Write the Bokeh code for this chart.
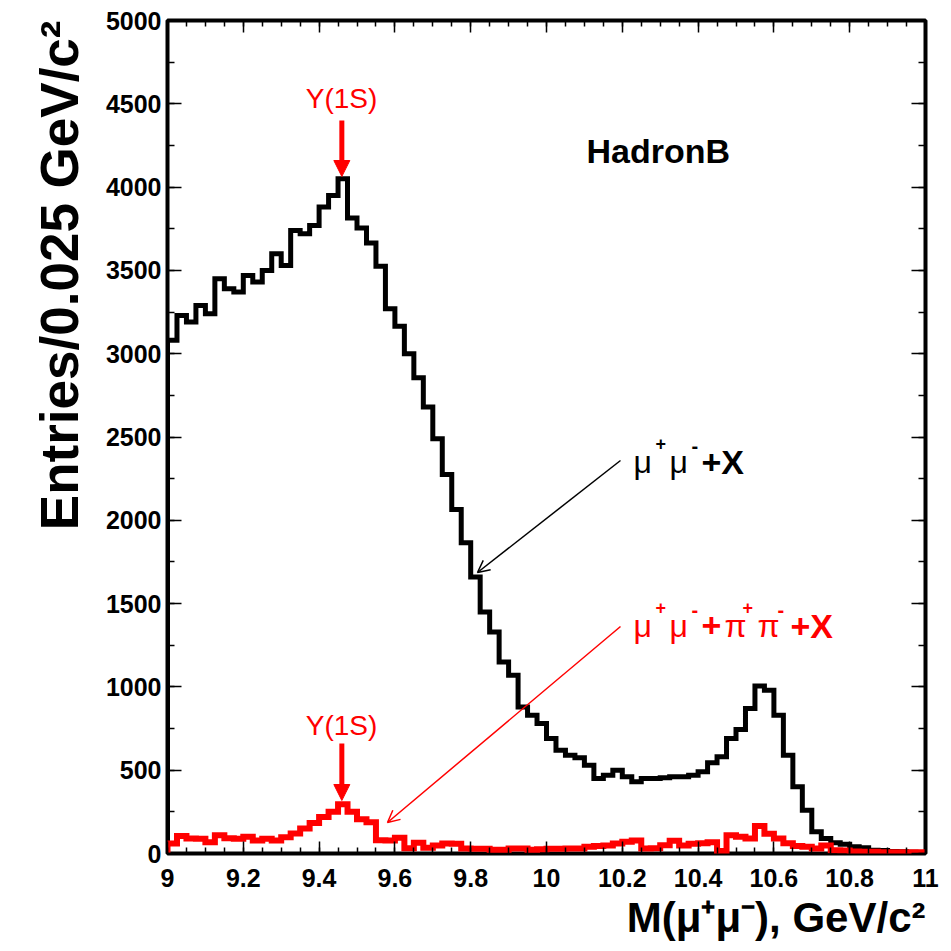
import numpy as np
from bokeh.plotting import figure
from bokeh.models import (Range1d, LinearAxis, FixedTicker, CustomJSTickFormatter,
                          Label, Arrow, NormalHead, OpenHead, Title)
from bokeh.embed import file_html
from bokeh.resources import INLINE

# Dimuon invariant mass, 80 bins of 0.025 GeV/c^2 between 9.0 and 11.0
mass_lo, mass_hi, bin_width = 9.0, 11.0, 0.025

# mu+ mu- + X (all hadronic events)
mumu_x = [3080, 3230, 3190, 3290, 3240, 3450, 3390, 3370, 3470, 3430,
          3500, 3600, 3530, 3740, 3720, 3770, 3880, 3950, 4050, 3815,
          3755, 3665, 3525, 3270, 3165, 3000, 2855, 2680, 2490, 2275,
          2065, 1865, 1660, 1450, 1330, 1150, 1070, 880, 830, 780,
          690, 620, 590, 575, 530, 450, 470, 500, 460, 430,
          450, 450, 455, 460, 460, 470, 490, 545, 580, 690,
          745, 870, 1005, 980, 830, 590, 400, 260, 130, 90,
          65, 55, 40, 35, 20, 18, 12, 10, 8, 6]

# mu+ mu- + pi+ pi- + X
mumu_pipi_x = [60, 105, 90, 88, 68, 110, 92, 88, 100, 78,
               88, 78, 98, 120, 150, 183, 219, 250, 295, 250,
               205, 188, 80, 78, 95, 32, 65, 35, 48, 60,
               58, 30, 28, 28, 22, 22, 30, 30, 22, 25,
               28, 28, 30, 30, 40, 45, 48, 60, 70, 78,
               30, 32, 50, 76, 48, 58, 62, 68, 15, 110,
               100, 90, 165, 118, 90, 62, 45, 40, 30, 48,
               20, 18, 12, 10, 10, 8, 8, 8, 8, 8]

x_major = [9.0, 9.2, 9.4, 9.6, 9.8, 10.0, 10.2, 10.4, 10.6, 10.8, 11.0]
x_labels = ["9", "9.2", "9.4", "9.6", "9.8", "10", "10.2", "10.4", "10.6", "10.8", "11"]
y_major = [0, 500, 1000, 1500, 2000, 2500, 3000, 3500, 4000, 4500, 5000]
y_labels = ["0", "500", "1000", "1500", "2000", "2500", "3000", "3500", "4000", "4500", "5000"]

upsilon_1s = 9.46  # GeV/c^2

FONT = "Liberation Sans"
Y_MAX = 5000

# frame geometry (pixels)
W, H = 951, 951
LEFT, RIGHT, TOP, BOTTOM = 167, 26, 20, 98
FW, FH = W - LEFT - RIGHT, H - TOP - BOTTOM

p = figure(width=W, height=H, x_range=Range1d(mass_lo, mass_hi), y_range=Range1d(0, Y_MAX),
           output_backend="svg", toolbar_location=None,
           min_border_left=LEFT, min_border_right=RIGHT,
           min_border_top=TOP, min_border_bottom=BOTTOM,
           x_axis_location=None, y_axis_location=None)
p.xgrid.visible = False
p.ygrid.visible = False
p.background_fill_color = "white"
p.border_fill_color = "white"
p.outline_line_color = "black"
p.outline_line_width = 4


def xd(px):
    return mass_lo + (px - LEFT) * (mass_hi - mass_lo) / FW


def yd(py):
    return (H - BOTTOM - py) * Y_MAX / FH


x_minor = [round(mass_lo + 0.05 * i, 2) for i in range(41)]
y_minor = list(range(0, Y_MAX + 1, 250))

label_js = ("for (let i = 0; i < vals.length; i++) {"
            " if (Math.abs(vals[i] - tick) < 1e-6) return labs[i]; } return '';")


def make_axis(ticks, minor, labels, tick_len, show_labels):
    ax = LinearAxis(ticker=FixedTicker(ticks=ticks, minor_ticks=minor))
    ax.axis_line_color = None
    ax.major_tick_in = tick_len
    ax.major_tick_out = 0
    ax.minor_tick_in = tick_len // 2
    ax.minor_tick_out = 0
    ax.major_tick_line_color = "black"
    ax.minor_tick_line_color = "black"
    ax.major_tick_line_width = 1.5
    ax.minor_tick_line_width = 1.5
    if show_labels:
        ax.formatter = CustomJSTickFormatter(args=dict(vals=ticks, labs=labels), code=label_js)
        ax.major_label_text_font = FONT
        ax.major_label_text_font_size = "25px"
        ax.major_label_text_font_style = "bold"
        ax.major_label_text_color = "black"
    else:
        ax.formatter = CustomJSTickFormatter(code="return '';")
        ax.major_label_text_font_size = "0px"
        ax.major_label_standoff = 0
    return ax


xb = make_axis(x_major, x_minor, x_labels, 12, True)
xb.major_label_standoff = 15
p.add_layout(xb, "below")
p.add_layout(make_axis(x_major, x_minor, x_labels, 12, False), "above")
yl = make_axis(y_major, y_minor, y_labels, 14, True)
yl.major_label_standoff = 6
p.add_layout(yl, "left")
p.add_layout(make_axis(y_major, y_minor, y_labels, 14, False), "right")

# axis titles, flush with the far end of each axis
p.add_layout(Title(text="M(μ⁺μ⁻), GeV/c²", align="right", text_font=FONT,
                   text_font_size="42px", text_font_style="bold", text_color="black",
                   standoff=4), "below")
p.add_layout(Title(text="Entries/0.025 GeV/c²", align="right", text_font=FONT,
                   text_font_size="53px", text_font_style="bold", text_color="black",
                   standoff=27), "left")


def outline(values):
    edges = mass_lo + bin_width * np.arange(len(values) + 1)
    xs = np.repeat(edges, 2)
    ys = np.concatenate([[0], np.repeat(values, 2), [0]])
    return xs, ys


bx, by = outline(mumu_x)
p.line(bx, by, line_color="black", line_width=5, line_join="miter")
rx, ry = outline(mumu_pipi_x)
p.line(rx, ry, line_color="#ff0000", line_width=6, line_join="miter")


def put(px, py, text, size, color="black", bold=False, align="left"):
    # py is the text baseline; the label is anchored at the middle of its em box
    p.add_layout(Label(x=xd(px), y=yd(py - 0.35 * size), text=text, text_font=FONT,
                       text_font_size=f"{size}px", text_color=color,
                       text_font_style="bold" if bold else "normal",
                       text_align=align, text_baseline="middle"))


# Upsilon(1S) markers
RED = "#ff0000"
put(341, 108, "Υ(1S)", 28, RED, align="center")
p.add_layout(Arrow(end=NormalHead(size=16, fill_color=RED, line_color=RED),
                   x_start=upsilon_1s, y_start=yd(120), x_end=upsilon_1s, y_end=yd(176),
                   line_color=RED, line_width=5))
put(341, 735, "Υ(1S)", 28, RED, align="center")
p.add_layout(Arrow(end=NormalHead(size=16, fill_color=RED, line_color=RED),
                   x_start=upsilon_1s, y_start=yd(743), x_end=upsilon_1s, y_end=yd(800),
                   line_color=RED, line_width=5))

put(586, 162, "HadronB", 34, bold=True)

# mu+ mu- + X
put(633, 473, "μ", 32)
put(655, 449, "+", 18, bold=True)
put(669, 473, "μ", 32)
put(691, 452, "-", 20, bold=True)
put(701, 473, "+X", 34, bold=True)
p.add_layout(Arrow(end=OpenHead(size=12, line_color="black", line_width=1.5),
                   x_start=xd(620), y_start=yd(460), x_end=xd(477), y_end=yd(572),
                   line_color="black", line_width=1.5))

# mu+ mu- + pi+ pi- + X
put(633, 637, "μ", 32, RED)
put(655, 613, "+", 18, RED, bold=True)
put(669, 637, "μ", 32, RED)
put(691, 616, "-", 20, RED, bold=True)
put(701, 637, "+", 34, RED, bold=True)
put(724, 637, "π", 32, RED)
put(742, 613, "+", 18, RED, bold=True)
put(757, 637, "π", 32, RED)
put(777, 616, "-", 20, RED, bold=True)
put(790, 637, "+X", 34, RED, bold=True)
p.add_layout(Arrow(end=OpenHead(size=12, line_color=RED, line_width=1.5),
                   x_start=xd(620), y_start=yd(626), x_end=xd(387), y_end=yd(822),
                   line_color=RED, line_width=1.5))

open("out.html", "w").write(file_html(p, INLINE))
